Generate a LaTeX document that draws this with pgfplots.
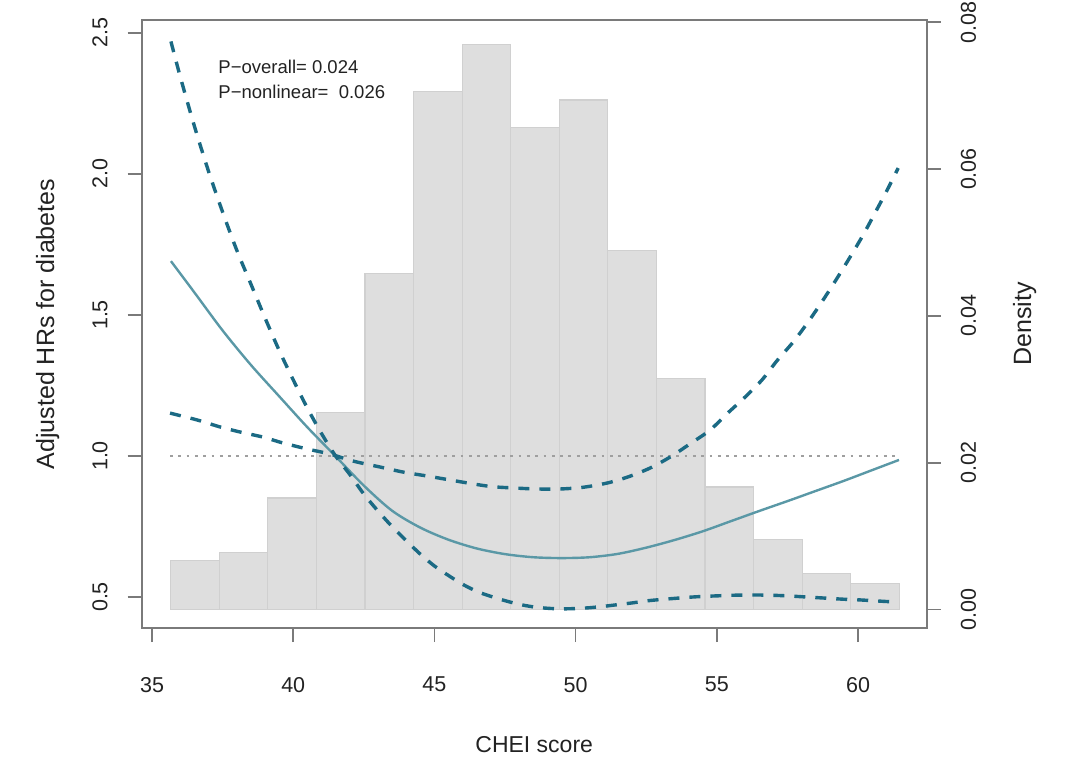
\documentclass[border=0pt]{standalone}
\usepackage{fontspec}
\setmainfont{Liberation Sans}
\usepackage{pgfplots}
\pgfplotsset{compat=1.18}

\definecolor{dashc}{HTML}{1B6A84}
\definecolor{solidc}{HTML}{5A98A6}
\definecolor{barfill}{HTML}{DEDEDE}
\definecolor{baredge}{HTML}{D0D0D0}
\definecolor{framec}{HTML}{7A7A7A}
\definecolor{txt}{HTML}{222222}

\begin{document}
\begin{tikzpicture}
\pgfplotsset{common/.style={
  width=392.5pt, height=304pt, scale only axis,
  xmin=34.635, xmax=62.43,
  /pgf/number format/assume math mode=true,
  tick style={framec, line width=0.8pt},
  major tick length=7pt, tick align=outside,
  axis line style={framec, line width=0.9pt},
  ticklabel style={font=\fontsize{10.75}{12}\selectfont, text=txt},
  label style={text=txt},
}}
\begin{axis}[common,
  ymin=-0.0025, ymax=0.0803,
  axis x line=none, axis y line*=right,
  ytick={0,0.02,0.04,0.06,0.08},
  scaled y ticks=false,
  yticklabel style={xshift=6.5pt, rotate=90, anchor=north, /pgf/number format/.cd, fixed, fixed zerofill, precision=2},
  ylabel={Density},
  ylabel style={at={(axis description cs:1.1248,0.5)}, anchor=center, rotate=0, font=\fontsize{12.5}{14}\selectfont},
]
\addplot[ybar interval, fill=barfill, draw=baredge, line width=0.6pt] coordinates {
(35.66,0.0067) (37.38,0.0078) (39.10,0.0152) (40.82,0.0268) (42.54,0.0458)
(44.26,0.0706) (45.98,0.0770) (47.70,0.0657) (49.42,0.0694) (51.14,0.0489)
(52.86,0.0315) (54.58,0.0167) (56.30,0.0096) (58.02,0.0049) (59.74,0.0036)
(61.46,0.0036)};
\end{axis}
\begin{axis}[common,
  ymin=0.390, ymax=2.546,
  xtick={35,40,45,50,55,60},
  ytick={0.5,1,1.5,2,2.5},
  xtick pos=left, ytick pos=left,
  xticklabel style={yshift=-14pt},
  yticklabel style={xshift=-6.5pt, rotate=90, anchor=south, /pgf/number format/.cd, fixed, fixed zerofill, precision=1},
  xlabel={CHEI score},
  xlabel style={at={(axis description cs:0.5,-0.1924)}, anchor=center, font=\fontsize{11.5}{13}\selectfont},
  ylabel={Adjusted HRs for diabetes},
  ylabel style={at={(axis description cs:-0.1197,0.5)}, anchor=center, font=\fontsize{12.5}{14}\selectfont},
  clip=false,
]
\addplot[gray!75, line width=1.2pt, dash pattern=on 1.4pt off 2.75pt] coordinates {(35.64,1) (61.42,1)};
% solid estimate
\addplot[solidc, line width=1.2pt, smooth] coordinates {
(35.67,1.691) (36.5,1.580) (37.5,1.445) (38.5,1.323) (39.5,1.212) (40.5,1.102)
(41.5,0.999) (42.5,0.895) (43.5,0.806) (44.5,0.746) (45.5,0.703) (46.5,0.672)
(47.5,0.652) (48.5,0.641) (49.5,0.638) (50.5,0.641) (51.5,0.653) (52.5,0.675)
(53.5,0.702) (54.5,0.733) (55.5,0.769) (56.5,0.805) (57.5,0.840) (58.5,0.876)
(59.5,0.912) (60.5,0.950) (61.45,0.986)};
% steep CI (upper left -> lower right)
\addplot[dashc, line width=1.7pt, dash pattern=on 5.5pt off 5pt, smooth] coordinates {
(35.67,2.470) (36.0,2.345) (36.5,2.170) (37.0,2.010) (37.5,1.865) (38.0,1.730)
(38.5,1.610) (39.0,1.490) (39.5,1.375) (40.0,1.270) (40.5,1.170) (41.0,1.080)
(41.5,1.000) (42.0,0.935) (42.5,0.865) (43.0,0.805) (43.5,0.750) (44.0,0.700)
(44.5,0.652) (45.0,0.610) (45.5,0.576) (46.0,0.545) (46.5,0.520) (47.0,0.502)
(47.5,0.487) (48.0,0.474) (48.5,0.465) (49.0,0.460) (49.5,0.458) (50.0,0.459)
(50.5,0.462) (51.0,0.467) (51.5,0.473) (52.0,0.479) (52.5,0.486) (53.0,0.491)
(53.5,0.495) (54.0,0.499) (54.5,0.502) (55.0,0.504) (55.5,0.506) (56.0,0.507)
(56.5,0.507) (57.0,0.506) (57.5,0.504) (58.0,0.501) (58.5,0.498) (59.0,0.495)
(59.5,0.492) (60.0,0.490) (60.5,0.487) (61.0,0.484) (61.42,0.482)};
% shallow CI (lower left -> upper right)
\addplot[dashc, line width=1.7pt, dash pattern=on 5.5pt off 5pt, smooth] coordinates {
(35.64,1.152) (36.59,1.128) (37.41,1.103) (38.12,1.085) (38.93,1.067) (39.64,1.046)
(40.49,1.025) (41.30,1.007) (42.12,0.982) (43.07,0.961) (43.89,0.943) (44.74,0.929)
(45.55,0.915) (46.37,0.901) (47.07,0.891) (47.92,0.886) (48.63,0.883) (49.45,0.883)
(50.26,0.889) (51.11,0.904) (51.86,0.926) (52.63,0.957) (53.34,0.996) (54.05,1.043)
(54.76,1.092) (55.36,1.150) (56.00,1.209) (56.60,1.270) (57.13,1.338) (57.70,1.404)
(58.23,1.475) (58.76,1.553) (59.26,1.631) (59.72,1.706) (60.18,1.784) (60.60,1.862)
(61.03,1.943) (61.42,2.021)};
\node[anchor=base west, font=\fontsize{9.25}{11}\selectfont, text=txt, inner sep=0pt] at (axis cs:37.34,2.3546) {P−overall= 0.024};
\node[anchor=base west, font=\fontsize{9.25}{11}\selectfont, text=txt, inner sep=0pt] at (axis cs:37.34,2.266) {P−nonlinear=\ \ 0.026};
\end{axis}
\pgfresetboundingbox
\path[use as bounding box] (-70.85pt,-70pt) rectangle (469.15pt,314pt);
\end{tikzpicture}
\end{document}
